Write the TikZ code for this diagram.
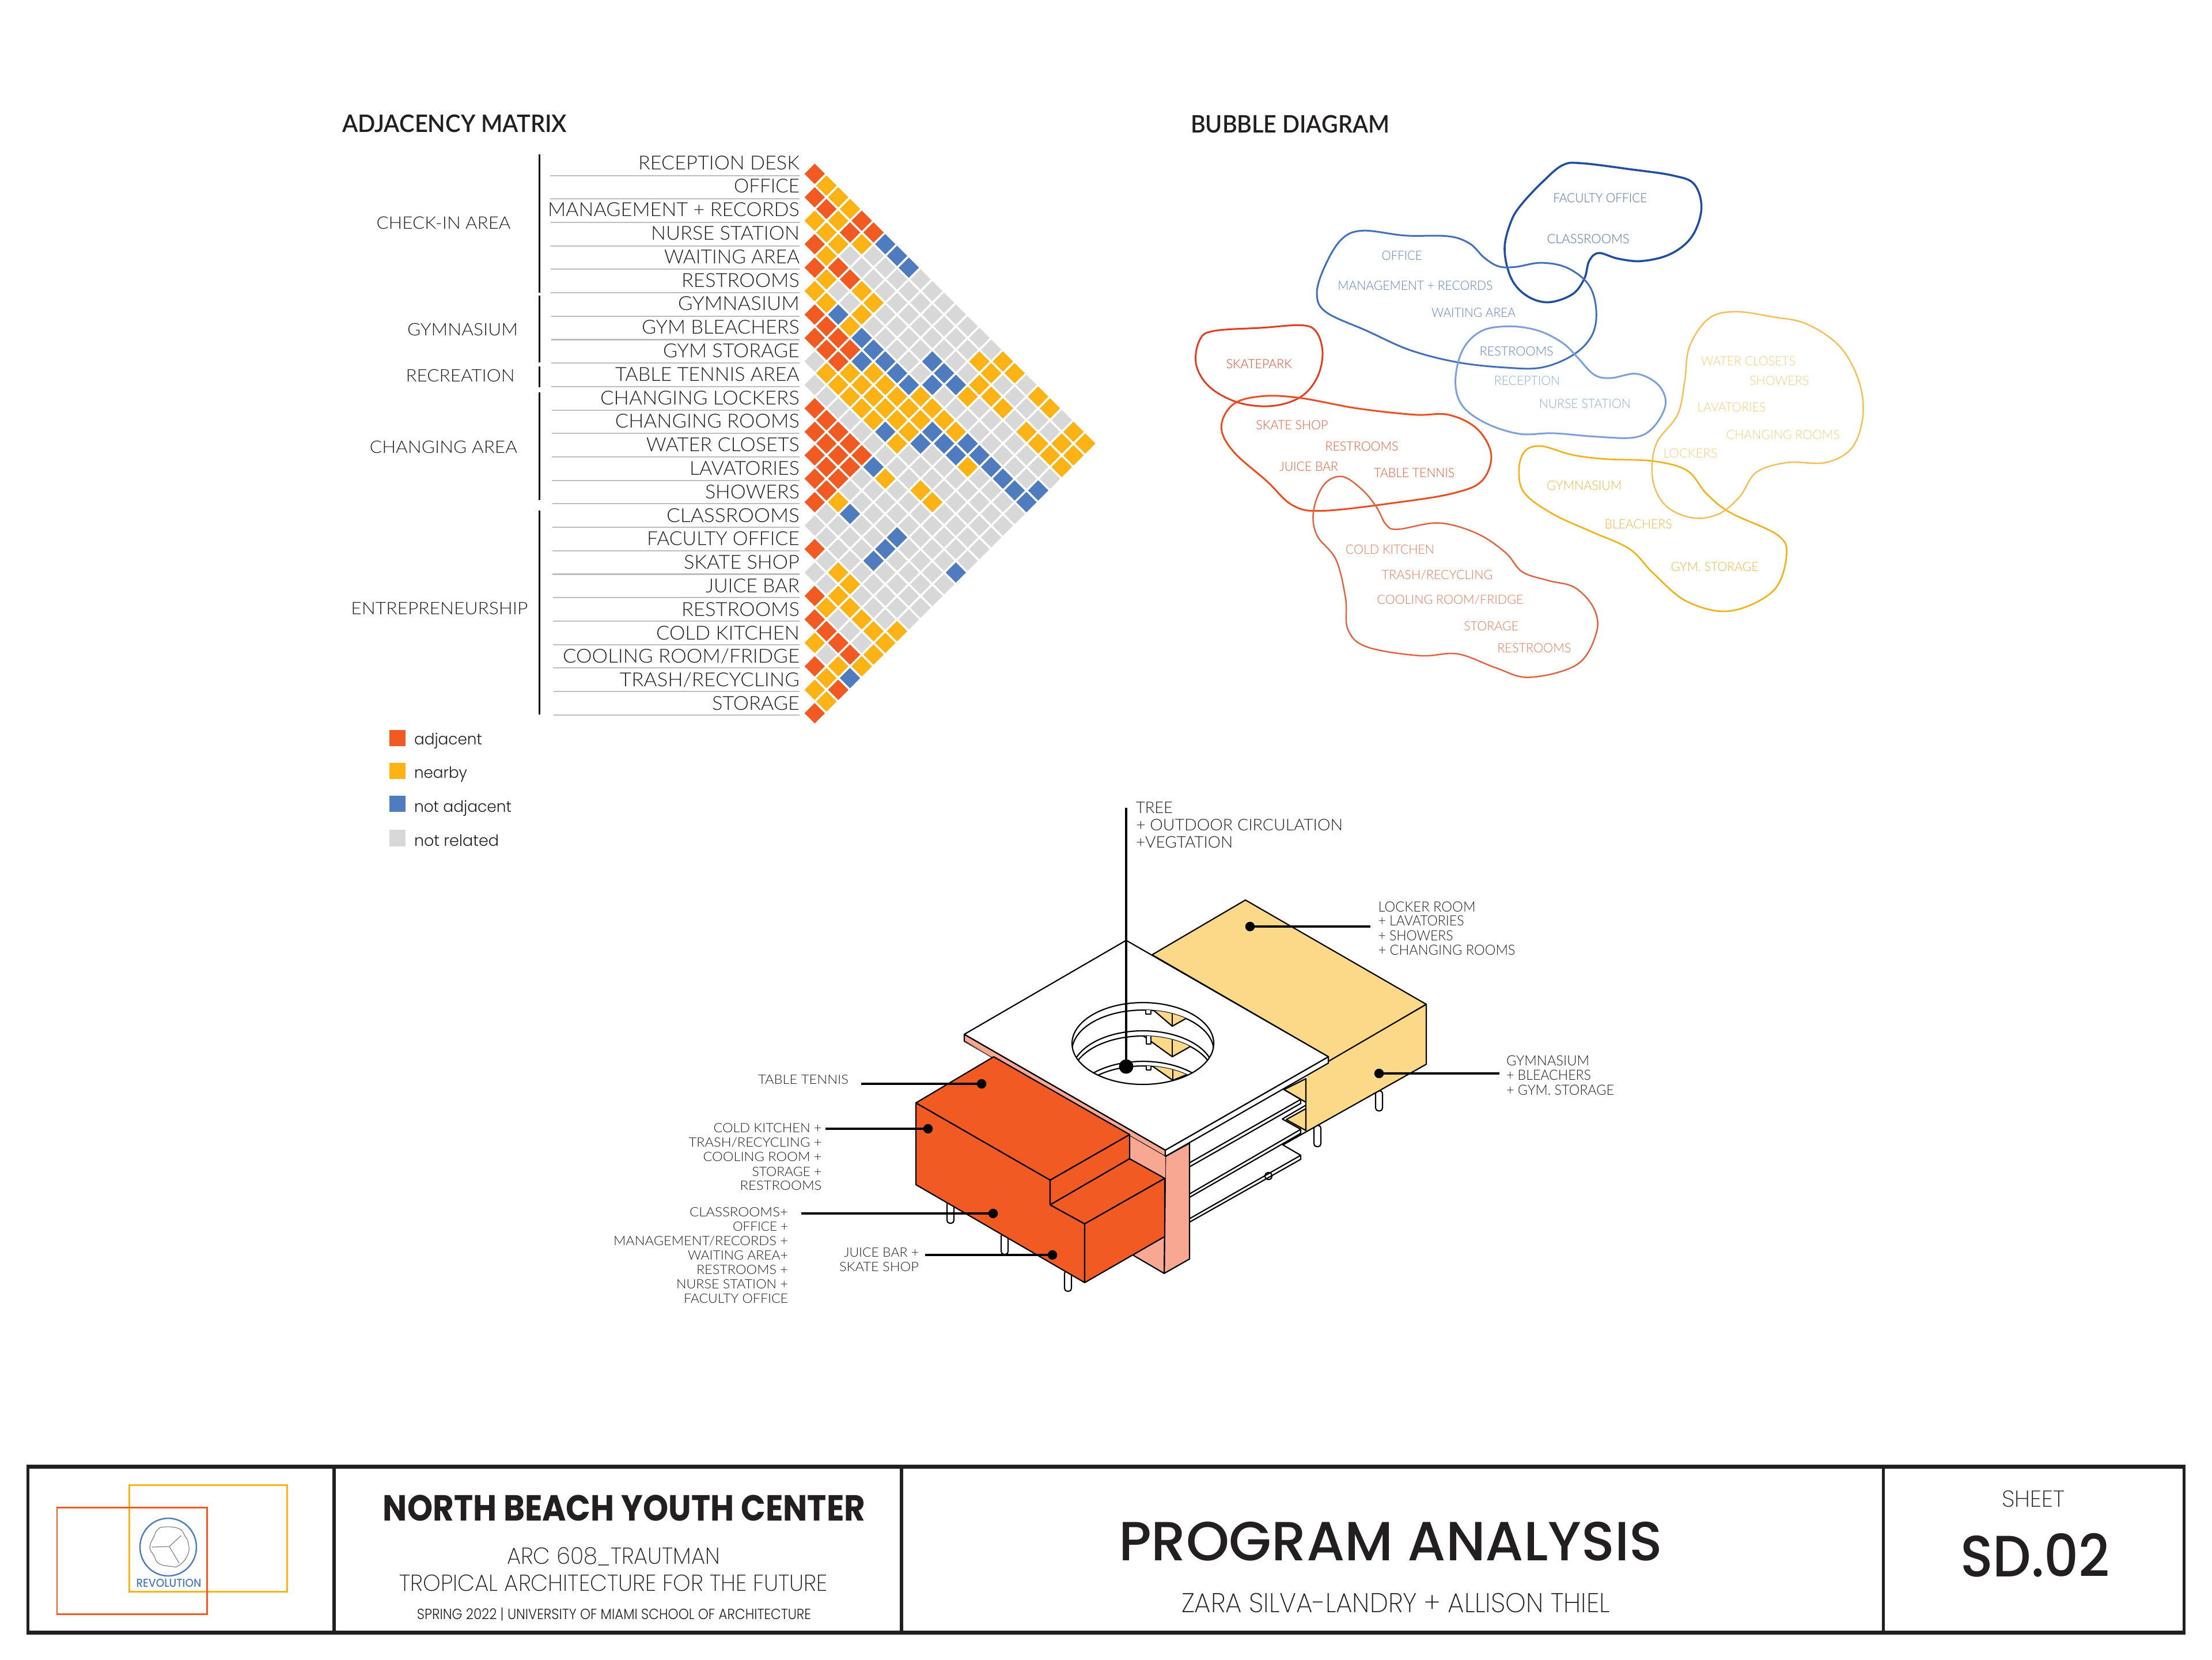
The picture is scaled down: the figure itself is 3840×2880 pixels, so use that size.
\documentclass[tikz,border=0pt]{standalone}
\usepackage{graphicx}
\usepackage{fontspec}
\newfontfamily\ltl{Lato Light}
\newfontfamily\ltm{Lato Semibold}
\newfontfamily\ppx{Poppins ExtraLight}
\newfontfamily\ppl{Poppins Light}
\newfontfamily\ppm{Poppins Medium}
\newfontfamily\pps{Poppins Bold}
\newlength\pxu \setlength\pxu{0.01cm}
\newcommand\W[2]{\resizebox{#1\pxu}{\height}{#2}}
\definecolor{mr}{HTML}{F15A22}
\definecolor{my}{HTML}{FDB315}
\definecolor{mb}{HTML}{4E7CBF}
\definecolor{mg}{HTML}{D8D8D8}
\definecolor{ink}{HTML}{231F20}
\definecolor{rulec}{HTML}{BDBDBD}
\definecolor{isoY}{HTML}{FCD989}
\definecolor{isoP}{HTML}{F8A792}
\tikzset{
  lab/.style={inner sep=0pt,outer sep=0pt},
  mx/.style={lab,anchor=base east,text=ink,font=\ltl\fontsize{9.53}{11}\selectfont},
  grp/.style={lab,anchor=base,text=ink,font=\ltl\fontsize{8.5}{10}\selectfont},
  head/.style={lab,anchor=base west,text=ink,font=\ltm\fontsize{11.9}{14}\selectfont},
  leg/.style={lab,anchor=base west,text=ink,font=\ppl\fontsize{7.7}{9}\selectfont},
  isoR/.style={lab,anchor=base east,text=ink,font=\ltl\fontsize{6.35}{8}\selectfont},
  isoL/.style={lab,anchor=base west,text=ink,font=\ltl\fontsize{6.97}{8}\selectfont},
  isoT/.style={lab,anchor=base west,text=ink,font=\ltl\fontsize{7.9}{9}\selectfont},
  bub/.style={lab,anchor=base,font=\ltl\fontsize{6.3}{8}\selectfont},
  ttl/.style={lab,anchor=base,text=ink},
  rule/.style={draw=rulec,line width=0.6pt},
  bar/.style={draw=black,line width=1.1pt},
  edge/.style={draw=black,line width=0.62pt,line join=round},
  leader/.style={draw=black,line width=1.1pt},
  dot/.style={circle,fill=black,inner sep=0pt,outer sep=0pt,minimum size=16.5\pxu},
  bigdot/.style={circle,fill=black,inner sep=0pt,outer sep=0pt,minimum size=25\pxu},
  leg box/.style={lab,minimum width=28.5\pxu,minimum height=28.5\pxu},
  pile/.style={draw=black,line width=0.6pt,fill=white,rounded corners=5\pxu},
  tb/.style={draw=ink,line width=2pt},
  tv/.style={draw=ink,line width=1.45pt},
}
\begin{document}
\begin{tikzpicture}[x=0.01cm,y=-0.01cm]
\useasboundingbox[fill=white] (0,0) rectangle (3840,2880);
% headings
\node[head] (hm) at (594,229) {\W{390}{ADJACENCY MATRIX}};
\node[head] (hb) at (2067,230) {\W{345}{BUBBLE DIAGRAM}};
% matrix rules and labels
\foreach \i in {0,...,23}{
  \pgfmathsetmacro\yy{304.6+\i*40.7}
  \pgfmathsetmacro\xl{955+\i*0.25}
  \draw[rule] (\xl,\yy) -- (1388,\yy);
}
\foreach \i/\w/\t in {0/280/RECEPTION DESK,1/114/OFFICE,2/437/MANAGEMENT + RECORDS,3/258/NURSE STATION,4/235/WAITING AREA,5/205/RESTROOMS,6/211/GYMNASIUM,7/274/GYM BLEACHERS,8/237/GYM STORAGE,9/320/TABLE TENNIS AREA,10/346/CHANGING LOCKERS,11/320/CHANGING ROOMS,12/266/WATER CLOSETS,13/191/LAVATORIES,14/164/SHOWERS,15/231/CLASSROOMS,16/265/FACULTY OFFICE,17/201/SKATE SHOP,18/163/JUICE BAR,19/205/RESTROOMS,20/249/COLD KITCHEN,21/411/{COOLING ROOM/FRIDGE},22/312/{TRASH/RECYCLING},23/152/STORAGE}{
  \pgfmathsetmacro\yy{294+\i*40.8}
  \node[mx] (row\i) at (1388,\yy) {\W{\w}{\t}};
}
% group bars
\draw[bar] (936.5,268) -- (936.5,507.5);
\draw[bar] (936.5,513) -- (936.5,629);
\draw[bar] (936.5,636) -- (936.5,672);
\draw[bar] (936.5,681) -- (936.5,868);
\draw[bar] (936.5,886) -- (936.5,1240);
\node[grp] (g1) at (770,397) {\W{233}{CHECK-IN AREA}};
\node[grp] (g2) at (803,582) {\W{192}{GYMNASIUM}};
\node[grp] (g3) at (799,662) {\W{189}{RECREATION}};
\node[grp] (g4) at (770,786) {\W{256}{CHANGING AREA}};
\node[grp] (g5) at (763,1066) {\W{307}{ENTREPRENEURSHIP}};
% matrix cells
\foreach \k/\lst in {
0/{r,r,y,r,r,y,r,r,g,g,r,r,r,r,r,g,r,g,r,r,y,r,y,r},
1/{y,r,y,y,y,y,r,r,y,g,r,r,r,r,g,g,g,g,y,r,g,y,y},
2/{y,y,y,r,g,b,r,r,y,g,r,r,r,y,g,g,y,y,g,r,y,r},
3/{y,r,g,r,g,y,r,y,y,g,r,r,g,b,g,g,y,y,g,r,b},
4/{r,y,g,y,y,b,b,y,y,g,r,g,g,g,g,g,g,y,g,y},
5/{r,g,g,y,g,b,y,y,y,g,b,g,g,g,b,g,g,y,y},
6/{b,g,g,g,g,b,y,y,b,g,y,g,g,b,g,g,g,y},
7/{b,g,g,g,g,b,y,y,y,g,g,g,b,g,g,g,y},
8/{b,g,g,g,g,b,y,y,g,g,g,g,g,g,g,g},
9/{g,g,g,g,g,y,y,b,g,y,g,g,g,g,g},
10/{g,g,g,b,b,y,b,g,g,y,g,g,g,g},
11/{g,g,g,b,g,y,b,g,g,g,g,g,g},
12/{g,g,g,b,g,y,b,g,g,g,g,b},
13/{g,g,g,y,g,b,y,g,g,g,g},
14/{g,y,y,g,g,b,g,g,g,g},
15/{g,y,y,g,g,b,g,g,g},
16/{y,g,y,g,g,b,g,g},
17/{y,g,g,g,g,b,g},
18/{g,g,y,g,g,b},
19/{y,g,y,g,b},
20/{y,g,y,g},
21/{g,y,y},
22/{y,y},
23/{y}}{
  \foreach \cc [count=\m from 0] in \lst {
    \pgfmathsetmacro\xx{1414.3+\k*20.42}
    \pgfmathsetmacro\yy{301.7+\k*20.35+\m*40.7}
    \fill[fill=m\cc] (\xx,\yy) +(-17.7,0) -- +(0,-17.7) -- +(17.7,0) -- +(0,17.7) -- cycle;
  }
}
% legend
\node[leg box,fill=mr] (k1) at (690,1281) {};
\node[leg box,fill=my] (k2) at (690,1338) {};
\node[leg box,fill=mb] (k3) at (690,1395) {};
\node[leg box,fill=mg] (k4) at (690,1454.5) {};
\node[leg] (t1) at (719,1292) {\W{118}{adjacent}};
\node[leg] (t2) at (719,1350) {\W{92}{nearby}};
\node[leg] (t3) at (719,1409) {\W{169}{not adjacent}};
\node[leg] (t4) at (719,1468) {\W{147}{not related}};
% bubble diagram, in a frame fitted to the measured outline
\begin{scope}[shift={(2000,250)},xscale=0.8292,yscale=0.6061]
\definecolor{c1}{HTML}{1F4EA1}\definecolor{c2}{HTML}{3F6FBE}\definecolor{c3}{HTML}{7BA0DC}
\definecolor{c4}{HTML}{E43E21}\definecolor{c5}{HTML}{EE4D22}\definecolor{c6}{HTML}{E5603C}
\definecolor{c7}{HTML}{F5B014}\definecolor{c8}{HTML}{F6BE55}
\draw[c1,line width=1pt] plot[smooth cycle,tension=0.6] coordinates {(860,60)(900,55)(1000,72)(1090,90)(1135,115)(1150,185)(1130,265)(1085,315)(1025,335)(975,328)(935,312)(915,335)(905,385)(880,430)(830,453)(785,435)(752,385)(738,300)(752,220)(775,170)(820,105)};
\draw[c2,line width=0.85pt] plot[smooth cycle,tension=0.6] coordinates {(440,248)(530,262)(620,264)(665,285)(695,325)(725,350)(760,352)(815,340)(870,355)(915,405)(930,480)(920,550)(880,605)(815,640)(740,640)(640,625)(540,590)(450,535)(365,482)(345,430)(360,355)(395,275)};
\draw[c3,line width=0.85pt] plot[smooth cycle,tension=0.6] coordinates {(750,522)(810,535)(860,570)(890,610)(925,660)(960,670)(1015,658)(1060,690)(1075,745)(1050,810)(1010,840)(930,838)(840,828)(770,830)(700,800)(650,750)(635,680)(650,590)(690,535)};
\draw[c4,line width=0.85pt] plot[smooth cycle,tension=0.6] coordinates {(130,535)(230,526)(315,519)(345,540)(357,600)(345,670)(310,725)(250,750)(180,740)(120,695)(92,630)(100,560)};
\draw[c5,line width=0.85pt] plot[smooth cycle,tension=0.6] coordinates {(230,722)(310,727)(430,757)(550,775)(620,775)(680,815)(710,890)(690,965)(630,1000)(520,1025)(360,1050)(295,1035)(240,965)(170,880)(145,810)(170,745)};
\draw[c6,line width=0.7pt] plot[smooth cycle,tension=0.6] coordinates {(398,952)(440,990)(470,1040)(490,1090)(515,1103)(600,1085)(680,1115)(740,1170)(775,1225)(830,1250)(885,1270)(925,1330)(930,1400)(890,1490)(790,1527)(720,1500)(640,1460)(560,1465)(450,1440)(410,1390)(405,1300)(385,1190)(345,1120)(338,1050)(360,975)};
\draw[c7,line width=0.75pt] plot[smooth cycle,tension=0.6] coordinates {(815,865)(880,890)(950,902)(1050,908)(1120,935)(1160,1000)(1210,1055)(1310,1120)(1328,1180)(1300,1280)(1210,1337)(1120,1310)(1050,1230)(1000,1160)(920,1110)(840,1060)(780,1000)(768,935)(780,880)};
\draw[c8,line width=0.7pt] plot[smooth cycle,tension=0.6] coordinates {(1220,480)(1300,495)(1370,515)(1440,580)(1480,680)(1488,780)(1465,870)(1410,912)(1330,912)(1265,940)(1230,1010)(1185,1060)(1130,1070)(1075,1035)(1048,960)(1055,860)(1100,775)(1115,680)(1125,580)(1165,500)};
\definecolor{l1}{HTML}{4F72AD}\definecolor{l2}{HTML}{5F84C2}\definecolor{l3}{HTML}{8FADD9}
\definecolor{l4}{HTML}{E04A32}\definecolor{l5}{HTML}{E85E3A}\definecolor{l6}{HTML}{E67A58}
\definecolor{l7}{HTML}{F2B83E}\definecolor{l8}{HTML}{F5CF7C}
\foreach \n/\x/\y/\w/\c/\t in {
b1/938/168/163/l1/FACULTY OFFICE,b2/913/284/143/l1/CLASSROOMS,
b3/523/333/70/l2/OFFICE,b4/551/418/269/l2/MANAGEMENT + RECORDS,b5/673/496/146/l2/WAITING AREA,b6/763/606/128/l2/RESTROOMS,
b7/785/691/114/l3/RECEPTION,b8/906/757/159/l3/NURSE STATION,
b9/224/643/114/l4/SKATEPARK,
b10/293/817/125/l5/SKATE SHOP,b11/439/878/127/l5/RESTROOMS,b12/328/936/102/l5/JUICE BAR,b13/549/954/140/l5/TABLE TENNIS,
b14/498/1174/154/l6/COLD KITCHEN,b15/597/1246/193/l6/{TRASH/RECYCLING},b16/624/1317/254/l6/{COOLING ROOM/FRIDGE},b17/710/1393/95/l6/STORAGE,b18/800/1456/128/l6/RESTROOMS,
b19/905/991/130/l7/GYMNASIUM,b20/1018/1101/117/l7/BLEACHERS,b21/1178/1224/152/l7/GYM. STORAGE,
b22/1127/898/94/l8/LOCKERS,b23/1248/635/164/l8/WATER CLOSETS,b24/1313/690/103/l8/SHOWERS,b25/1213/766/119/l8/LAVATORIES,b26/1321/846/197/l8/CHANGING ROOMS}{
  \node[bub,text=\c] (\n) at (\x,\y) {\W{\w}{\t}};
}
\end{scope}
% axonometric model: piles
\foreach \x/\a/\b in {2394/1893/1928,2287/1953/1990,2202/2035/2047,1650/2085/2123,1744/2140/2177,1854/2205/2241}{
  \draw[pile] (\x-6,\a) rectangle (\x+6,\b);
}
% yellow block
\draw[edge,fill=isoY] (2162,1562) -- (2476,1743) -- (2306,1842) -- (2306,1834) -- (2000,1657) -- cycle;
\fill[isoY] (2280,1850) -- (2476,1743) -- (2476,1847) -- (2227,1987) -- (2258,1967) -- (2267,1962) -- (2267,1872) -- cycle;
\draw[edge] (2476,1743) -- (2476,1847) -- (2227,1987);
\draw[edge] (2476,1743) -- (2306,1842);
\draw[edge] (2267,1872) -- (2267,1962);
% floor plates
\draw[edge,fill=isoY] (2267,1872) -- (2229,1891) -- (2267,1913) -- cycle;
\draw[edge,fill=isoY] (2267,1924) -- (2233,1943) -- (2267,1962) -- cycle;
\draw[edge] (2229,1891) -- (2258,1908) -- (2258,1915) -- (2065,2025);
\draw[edge] (2258,1908) -- (2065,2018);
\draw[edge] (2267,1918) -- (2226,1942) -- (2258,1960) -- (2258,1967) -- (2065,2078);
\draw[edge] (2258,1960) -- (2065,2072);
\draw[edge] (2258,1967) -- (2227,1987) -- (2258,2005) -- (2258,2012) -- (2065,2121);
\draw[edge] (2258,2005) -- (2065,2115);
% pink column
\draw[edge,fill=isoP] (2023,2007) -- (2065,1984) -- (2065,2185) -- (2021,2210) -- cycle;
\draw[edge,fill=isoP] (1961,1969) -- (2023,2007) -- (2021,2210) -- (1968,2179) -- (1961,2011) -- cycle;
% roof slab
\draw[edge,fill=isoP] (1674,1795) -- (2023,1996) -- (2023,2007) -- (1674,1807) -- cycle;
\fill[isoP] (1725,1834) -- (1674,1807) -- (2023,2007) -- (2023,2045) -- (1961,2011) -- cycle;
\draw[edge,fill=white] (2306,1834) -- (2306,1845) -- (2023,2007) -- (2023,1996) -- cycle;
\draw[edge,fill=white] (1955,1632) -- (2306,1834) -- (2023,1996) -- (1674,1795) -- cycle;
% court opening
\begin{scope}
\clip (1984,1811) ellipse [x radius=123,y radius=71];
\draw[edge] (1984,1824) ellipse [x radius=123,y radius=71];
\begin{scope}
\clip (1984,1824) ellipse [x radius=123,y radius=71];
\draw[edge,fill=isoY] (1993,1745) -- (2035,1781) -- (2058,1768) -- (2058,1745) -- cycle;
\draw[edge] (2035,1745) -- (2035,1781);
\draw[edge,fill=white] (1989,1745) rectangle (1998,1760);
\end{scope}
\draw[edge,fill=white] (1984,1860) ellipse [x radius=123,y radius=71];
\draw[edge] (1984,1869) ellipse [x radius=123,y radius=71];
\begin{scope}
\clip (1984,1869) ellipse [x radius=123,y radius=71];
\draw[edge,fill=isoY] (1974,1790) -- (2035,1834) -- (2065,1817) -- (2065,1790) -- cycle;
\draw[edge] (2035,1790) -- (2035,1834);
\draw[edge,fill=white] (1990,1790) rectangle (1998,1812);
\end{scope}
\draw[edge,fill=white] (1984,1913) ellipse [x radius=123,y radius=71];
\draw[edge] (1984,1921) ellipse [x radius=123,y radius=71];
\begin{scope}
\clip (1984,1921) ellipse [x radius=123,y radius=71];
\draw[edge,fill=isoY] (1993,1845) -- (2036,1875) -- (2065,1863) -- (2065,1845) -- cycle;
\draw[edge] (2036,1845) -- (2036,1875);
\draw[edge,fill=white] (1990,1845) rectangle (1998,1857);
\end{scope}
\end{scope}
\draw[edge] (1984,1811) ellipse [x radius=123,y radius=71];
% orange block
\draw[edge,fill=mr] (1590,1914) -- (1823,2048) -- (1823,2091) -- (1883,2124) -- (1883,2226) -- (1590,2056) -- cycle;
\draw[edge,fill=mr] (1823,2048) -- (1961,1969) -- (1961,2011) -- (1823,2091) -- cycle;
\draw[edge,fill=mr] (1823,2091) -- (1961,2011) -- (2022,2045) -- (1883,2124) -- cycle;
\draw[edge,fill=mr] (1883,2124) -- (2022,2045) -- (2022,2146) -- (1883,2226) -- cycle;
\draw[edge,fill=mr] (1590,1914) -- (1725,1834) -- (1961,1969) -- (1823,2048) -- cycle;
% leaders
\coordinate (eT) at (1955,1402); \node[bigdot] (dT) at (1955,1851) {}; \draw[leader] (eT) -- (dT);
\coordinate (eL) at (2379,1608); \node[dot] (dL) at (2170,1608) {}; \draw[leader] (eL) -- (dL);
\coordinate (eG) at (2603,1863); \node[dot] (dG) at (2394,1863) {}; \draw[leader] (eG) -- (dG);
\coordinate (eA) at (1495,1881); \node[dot] (dA) at (1704,1881) {}; \draw[leader] (eA) -- (dA);
\coordinate (eK) at (1433,1959); \node[dot] (dK) at (1611,1959) {}; \draw[leader] (eK) -- (dK);
\coordinate (eC) at (1391,2106); \node[dot] (dC) at (1724,2106) {}; \draw[leader] (eC) -- (dC);
\coordinate (eJ) at (1606,2178); \node[dot] (dJ) at (1827,2178) {}; \draw[leader] (eJ) -- (dJ);
% model labels
\node[isoT] (l1) at (1972,1411) {\W{64}{TREE}};
\node[isoT] (l2) at (1972,1441) {\W{359}{+ OUTDOOR CIRCULATION}};
\node[isoT] (l3) at (1972,1471) {\W{168}{+VEGTATION}};
\node[isoL] (l4) at (2392.5,1582) {\W{169}{LOCKER ROOM}};
\node[isoL] (l5) at (2392.5,1606.5) {\W{149}{+ LAVATORIES}};
\node[isoL] (l6) at (2392.5,1632) {\W{130}{+ SHOWERS}};
\node[isoL] (l7) at (2392.5,1657) {\W{238}{+ CHANGING ROOMS}};
\node[isoL] (l8) at (2615,1849.6) {\W{144}{GYMNASIUM}};
\node[isoL] (l9) at (2615,1874.6) {\W{147}{+ BLEACHERS}};
\node[isoL] (l10) at (2615,1900) {\W{187}{+ GYM. STORAGE}};
\node[isoR] (r1) at (1473,1881) {\W{157}{TABLE TENNIS}};
\node[isoR] (r2) at (1426.5,1965.7) {\W{188}{COLD KITCHEN +}};
\node[isoR] (r3) at (1426.5,1990.5) {\W{231}{TRASH/RECYCLING +}};
\node[isoR] (r4) at (1426.5,2015.5) {\W{206}{COOLING ROOM +}};
\node[isoR] (r5) at (1426.5,2041) {\W{121}{STORAGE +}};
\node[isoR] (r6) at (1426.5,2065.8) {\W{142}{RESTROOMS}};
\node[isoR] (r7) at (1368,2111.7) {\W{171}{CLASSROOMS+}};
\node[isoR] (r8) at (1368,2136.7) {\W{96}{OFFICE +}};
\node[isoR] (r9) at (1368,2161.7) {\W{303}{MANAGEMENT/RECORDS +}};
\node[isoR] (r10) at (1368,2186.7) {\W{174}{WAITING AREA+}};
\node[isoR] (r11) at (1368,2211.7) {\W{159}{RESTROOMS +}};
\node[isoR] (r12) at (1368,2236.7) {\W{194}{NURSE STATION +}};
\node[isoR] (r13) at (1368,2261.7) {\W{181}{FACULTY OFFICE}};
\node[isoR] (r14) at (1595,2181.7) {\W{130}{JUICE BAR +}};
\node[isoR] (r15) at (1595,2206.7) {\W{138}{SKATE SHOP}};
% title block
\draw[tb] (46,2545) -- (3794,2545);
\draw[tb] (46,2833) -- (3794,2833);
\foreach \x in {48.5,580,1565,3269,3791.5}{ \draw[tv] (\x,2545) -- (\x,2833); }
\draw[draw=my,line width=0.85pt] (224.5,2577) rectangle (498,2762.5);
\draw[draw=mr,line width=0.85pt] (99,2616) rectangle (359,2801.5);
\draw[draw=mb,line width=0.7pt] (292,2685) ellipse [x radius=49,y radius=50];
\begin{scope}[shift={(0,2500)},xscale=1.0204,yscale=0.3333]
\draw[draw=black!55,line width=0.3pt] plot[smooth cycle,tension=0.8] coordinates {(280,450)(305,460)(315,500)(320,530)(320,590)(305,650)(290,655)(270,640)(262,600)(255,555)(262,500)(268,465)};
\coordinate (hub) at (288,552);
\coordinate (sp1) at (308,495); \coordinate (sp2) at (258,555); \coordinate (sp3) at (305,640);
\draw[draw=black!55,line width=0.3pt] (hub) -- (sp1) (hub) -- (sp2) (hub) -- (sp3);
\end{scope}
\node[ttl,text=mb,font=\ppm\fontsize{5.7}{7}\selectfont] (logo) at (293,2754) {\W{113}{REVOLUTION}};
\node[ttl,font=\pps\fontsize{17.9}{20}\selectfont] (p1) at (1083.5,2639) {\W{837}{NORTH BEACH YOUTH CENTER}};
\node[ttl,font=\ppx\fontsize{11.4}{13}\selectfont] (p2) at (1065,2714) {\W{370}{ARC 608\_TRAUTMAN}};
\node[ttl,font=\ppx\fontsize{11.4}{13}\selectfont] (p3) at (1065,2761.7) {\W{743}{TROPICAL ARCHITECTURE FOR THE FUTURE}};
\node[ttl,font=\ppl\fontsize{7.3}{9}\selectfont] (p4) at (1066,2810) {\W{684}{SPRING 2022 | UNIVERSITY OF MIAMI SCHOOL OF ARCHITECTURE}};
\node[ttl,font=\ppm\fontsize{27.2}{30}\selectfont] (p5) at (2414,2708) {\W{944}{PROGRAM ANALYSIS}};
\node[ttl,font=\ppx\fontsize{13.4}{15}\selectfont] (p6) at (2423,2798) {\W{744}{ZARA SILVA-LANDRY + ALLISON THIEL}};
\node[ttl,font=\ppx\fontsize{11.4}{13}\selectfont] (p7) at (3530,2615) {\W{109}{SHEET}};
\node[ttl,font=\ppm\fontsize{28.8}{31}\selectfont] (p8) at (3533,2736) {\W{260}{SD.02}};
\end{tikzpicture}
\end{document}
